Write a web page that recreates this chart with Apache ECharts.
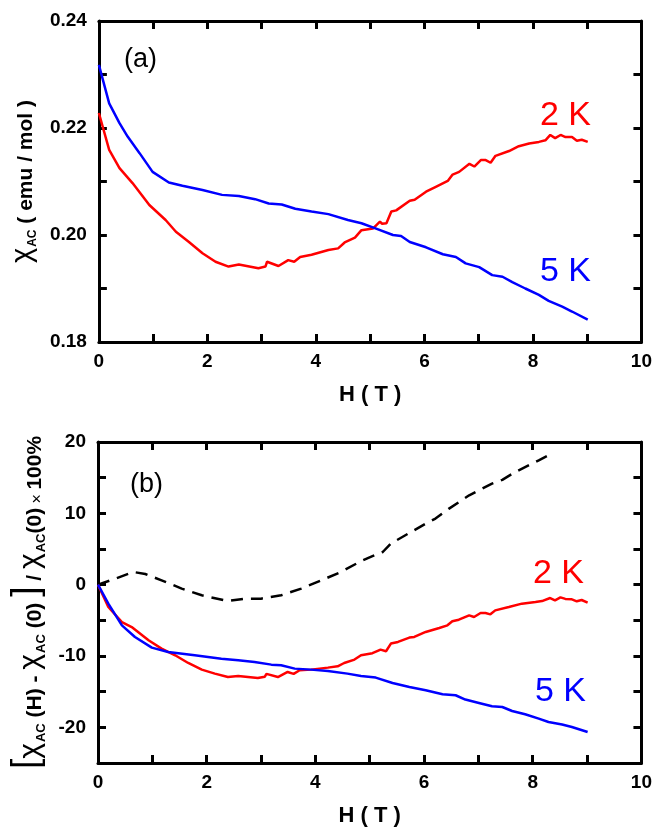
<!DOCTYPE html>
<html>
<head>
<meta charset="utf-8">
<script src="https://cdn.jsdelivr.net/npm/echarts@6/dist/echarts.min.js"></script>
<style>
  html, body { margin: 0; padding: 0; background: #fff; }
  #chart { width: 655px; height: 832px; }
</style>
</head>
<body>
<div id="chart"></div>
<script>
// panel (a): chi_AC vs H
const redA_H = [0, 0.19, 0.38, 0.62, 0.93, 1.23, 1.42, 1.66, 1.91, 2.15, 2.39, 2.58, 2.94, 3.07, 3.10, 3.31, 3.49, 3.60, 3.71, 3.92, 4.23, 4.41, 4.53, 4.72, 4.84, 5.05, 5.18, 5.22, 5.30, 5.39, 5.48, 5.73, 5.82, 6.03, 6.21, 6.43, 6.52, 6.64, 6.83, 6.92, 7.04, 7.13, 7.22, 7.31, 7.56, 7.74, 7.93, 8.11, 8.23, 8.32, 8.41, 8.51, 8.60, 8.72, 8.81, 8.90, 9.01];
const redA_Y = [0.2228, 0.2159, 0.2125, 0.2097, 0.2056, 0.2028, 0.2006, 0.1987, 0.1966, 0.1950, 0.1941, 0.1945, 0.1938, 0.1941, 0.1950, 0.1942, 0.1953, 0.1950, 0.1959, 0.1963, 0.1972, 0.1975, 0.1986, 0.1995, 0.2009, 0.2012, 0.2025, 0.2021, 0.2022, 0.2044, 0.2046, 0.2064, 0.2066, 0.2081, 0.2090, 0.2101, 0.2113, 0.2118, 0.2133, 0.2128, 0.2140, 0.2140, 0.2135, 0.2148, 0.2157, 0.2166, 0.2171, 0.2174, 0.2177, 0.2187, 0.2181, 0.2187, 0.2183, 0.2183, 0.2176, 0.2178, 0.2174];
const blueA_H = [0, 0.19, 0.38, 0.53, 0.75, 0.99, 1.29, 1.54, 1.91, 2.27, 2.58, 2.88, 3.13, 3.37, 3.62, 3.92, 4.23, 4.59, 4.84, 5.11, 5.42, 5.57, 5.73, 6.03, 6.34, 6.58, 6.76, 7.01, 7.25, 7.44, 7.62, 7.86, 8.11, 8.29, 8.54, 8.72, 9.01];
const blueA_Y = [0.2318, 0.2246, 0.2209, 0.2184, 0.2153, 0.2118, 0.2098, 0.2092, 0.2084, 0.2075, 0.2073, 0.2067, 0.2059, 0.2057, 0.2049, 0.2044, 0.2039, 0.2028, 0.2022, 0.2012, 0.2000, 0.1998, 0.1987, 0.1977, 0.1964, 0.1959, 0.1947, 0.1940, 0.1925, 0.1922, 0.1912, 0.1900, 0.1888, 0.1877, 0.1866, 0.1857, 0.1842];

// panel (b): relative change in %
const redB_H = [0, 0.19, 0.44, 0.62, 0.93, 1.17, 1.42, 1.66, 1.91, 2.15, 2.39, 2.58, 2.94, 3.07, 3.10, 3.31, 3.49, 3.60, 3.71, 3.92, 4.23, 4.41, 4.53, 4.72, 4.84, 5.05, 5.20, 5.30, 5.39, 5.52, 5.73, 5.82, 6.03, 6.28, 6.43, 6.52, 6.64, 6.83, 6.92, 7.04, 7.13, 7.22, 7.31, 7.56, 7.80, 8.05, 8.17, 8.32, 8.41, 8.51, 8.60, 8.72, 8.81, 8.90, 9.01];
const redB_Y = [0, -3.13, -5.24, -5.94, -7.8, -8.97, -9.9, -10.98, -11.91, -12.47, -12.95, -12.8, -13.09, -12.9, -12.5, -12.95, -12.24, -12.5, -12.0, -11.91, -11.63, -11.45, -10.98, -10.5, -9.9, -9.6, -9.1, -9.33, -8.26, -8.03, -7.42, -7.33, -6.63, -6.07, -5.7, -5.14, -4.91, -4.30, -4.53, -3.97, -3.97, -4.16, -3.6, -3.13, -2.66, -2.43, -2.3, -1.87, -2.2, -1.78, -2.0, -2.05, -2.33, -2.15, -2.52];
const blueB_H = [0, 0.19, 0.44, 0.68, 0.99, 1.29, 1.78, 2.27, 2.58, 2.88, 3.19, 3.37, 3.62, 3.92, 4.23, 4.59, 4.84, 5.11, 5.42, 5.73, 6.03, 6.34, 6.58, 6.76, 7.01, 7.25, 7.44, 7.62, 7.86, 8.11, 8.29, 8.54, 8.72, 9.01];
const blueB_Y = [0, -2.66, -5.7, -7.34, -8.83, -9.44, -9.9, -10.37, -10.6, -10.84, -11.21, -11.3, -11.77, -11.91, -12.1, -12.47, -12.8, -13.03, -13.78, -14.34, -14.81, -15.37, -15.5, -16.11, -16.59, -17.05, -17.15, -17.71, -18.17, -18.78, -19.25, -19.6, -19.95, -20.65];
const diffB_H = [0, 0.32, 0.65, 0.87, 1.17, 1.54, 1.91, 2.39, 2.70, 3.00, 3.37, 3.74, 4.11, 4.47, 4.84, 5.05, 5.24, 5.39, 5.60, 6.03, 6.21, 6.46, 6.83, 7.25, 7.44, 7.68, 8.11, 8.29];
const diffB_Y = [0, 0.85, 1.78, 1.5, 0.61, -0.55, -1.49, -2.29, -1.96, -1.96, -1.49, -0.55, 0.61, 1.78, 3.3, 4.0, 4.58, 5.76, 6.68, 8.56, 9.26, 10.66, 12.53, 14.17, 14.7, 15.8, 17.43, 18.13];

const zip = (xs, ys) => xs.map((x, i) => [x, ys[i]]);

const FONT = 'Arial, "Liberation Sans", Helvetica, sans-serif';
const axisLine = { show: true, onZero: false, lineStyle: { color: '#000', width: 3 } };
const tick = { show: true, inside: true, length: 8, lineStyle: { color: '#000', width: 3 } };
const tickLabel = { color: '#000', fontFamily: FONT, fontWeight: 'bold', fontSize: 19 };

function xAxes(grid) {
  return [{
    type: 'value', gridIndex: grid, position: 'bottom', min: 0, max: 10, interval: 1,
    axisLine, axisTick: tick, splitLine: { show: false },
    axisLabel: Object.assign({ margin: 10, formatter: v => (v % 2 === 0 ? String(v) : '') }, tickLabel),
    name: 'H ( T )', nameLocation: 'middle', nameGap: 42,
    nameTextStyle: { color: '#000', fontFamily: FONT, fontWeight: 'bold', fontSize: 22 }
  }, {
    type: 'value', gridIndex: grid, position: 'top', min: 0, max: 10, interval: 1,
    axisLine, axisTick: tick, axisLabel: { show: false }, splitLine: { show: false }
  }];
}

const yNameA = '{chi|χ}{sub|AC}{t| ( emu / mol )}';
const yNameB = '{br|[}{chi|χ}{sub|AC}{t| (H) - }{chi|χ}{sub|AC}{t| (0) }{br|]}{t| / }{chi|χ}{sub|AC}{t|(0)}{x| × }{t|100%}';
function rich(chiSize, tSize, subSize) {
  return {
    chi: { fontFamily: FONT, fontSize: chiSize, color: '#000', verticalAlign: 'bottom' },
    sub: { fontFamily: FONT, fontSize: subSize, fontWeight: 'bold', color: '#000', verticalAlign: 'bottom', padding: [0, 0, -2, 1] },
    t: { fontFamily: FONT, fontSize: tSize, fontWeight: 'bold', color: '#000', verticalAlign: 'bottom' },
    x: { fontFamily: FONT, fontSize: 16, color: '#000', verticalAlign: 'bottom' },
    br: { fontFamily: FONT, fontSize: 37, color: '#000', verticalAlign: 'bottom' }
  };
}

const option = {
  backgroundColor: '#fff',
  animation: false,
  grid: [
    { left: 98, right: 13, top: 21, height: 321 },
    { left: 98, right: 13, top: 442, height: 321 }
  ],
  xAxis: [...xAxes(0), ...xAxes(1)],
  yAxis: [{
    type: 'value', gridIndex: 0, position: 'left', min: 0.18, max: 0.24, interval: 0.01,
    axisLine, axisTick: tick, splitLine: { show: false },
    axisLabel: Object.assign({ margin: 12, formatter: v => (Math.round(v * 100) % 2 === 0 ? v.toFixed(2) : '') }, tickLabel),
    name: yNameA, nameLocation: 'middle', nameGap: 61,
    nameTextStyle: { rich: rich(29, 21, 12) }
  }, {
    type: 'value', gridIndex: 0, position: 'right', min: 0.18, max: 0.24, interval: 0.01,
    axisLine, axisTick: tick, axisLabel: { show: false }, splitLine: { show: false }
  }, {
    type: 'value', gridIndex: 1, position: 'left', min: -25, max: 20, interval: 5,
    axisLine, axisTick: tick, splitLine: { show: false },
    axisLabel: Object.assign({ margin: 12, formatter: v => (v % 10 === 0 ? String(v) : '') }, tickLabel),
    name: yNameB, nameLocation: 'middle', nameGap: 50,
    nameTextStyle: { rich: rich(30, 21, 13) }
  }, {
    type: 'value', gridIndex: 1, position: 'right', min: -25, max: 20, interval: 5,
    axisLine, axisTick: tick, axisLabel: { show: false }, splitLine: { show: false }
  }],
  series: [
    { name: '2 K (a)', type: 'line', xAxisIndex: 0, yAxisIndex: 0, data: zip(redA_H, redA_Y), showSymbol: false, lineStyle: { color: '#ff0000', width: 2.5 } },
    { name: '5 K (a)', type: 'line', xAxisIndex: 0, yAxisIndex: 0, data: zip(blueA_H, blueA_Y), showSymbol: false, lineStyle: { color: '#0000ff', width: 2.5 } },
    { name: 'diff (b)', type: 'line', xAxisIndex: 2, yAxisIndex: 2, data: zip(diffB_H, diffB_Y), showSymbol: false, lineStyle: { color: '#000', width: 2.5, type: [12, 8] } },
    { name: '2 K (b)', type: 'line', xAxisIndex: 2, yAxisIndex: 2, data: zip(redB_H, redB_Y), showSymbol: false, lineStyle: { color: '#ff0000', width: 2.5 } },
    { name: '5 K (b)', type: 'line', xAxisIndex: 2, yAxisIndex: 2, data: zip(blueB_H, blueB_Y), showSymbol: false, lineStyle: { color: '#0000ff', width: 2.5 } }
  ],
  graphic: [
    { type: 'text', left: 124, top: 46, style: { text: '(a)', fontFamily: FONT, fontSize: 27, fill: '#000' } },
    { type: 'text', left: 540, top: 99, style: { text: '2 K', fontFamily: FONT, fontSize: 34, fill: '#ff0000' } },
    { type: 'text', left: 540, top: 255, style: { text: '5 K', fontFamily: FONT, fontSize: 34, fill: '#0000ff' } },
    { type: 'text', left: 130, top: 471, style: { text: '(b)', fontFamily: FONT, fontSize: 27, fill: '#000' } },
    { type: 'text', left: 533, top: 557, style: { text: '2 K', fontFamily: FONT, fontSize: 34, fill: '#ff0000' } },
    { type: 'text', left: 535, top: 675, style: { text: '5 K', fontFamily: FONT, fontSize: 34, fill: '#0000ff' } }
  ]
};

echarts.init(document.getElementById('chart')).setOption(option);
</script>
</body>
</html>
